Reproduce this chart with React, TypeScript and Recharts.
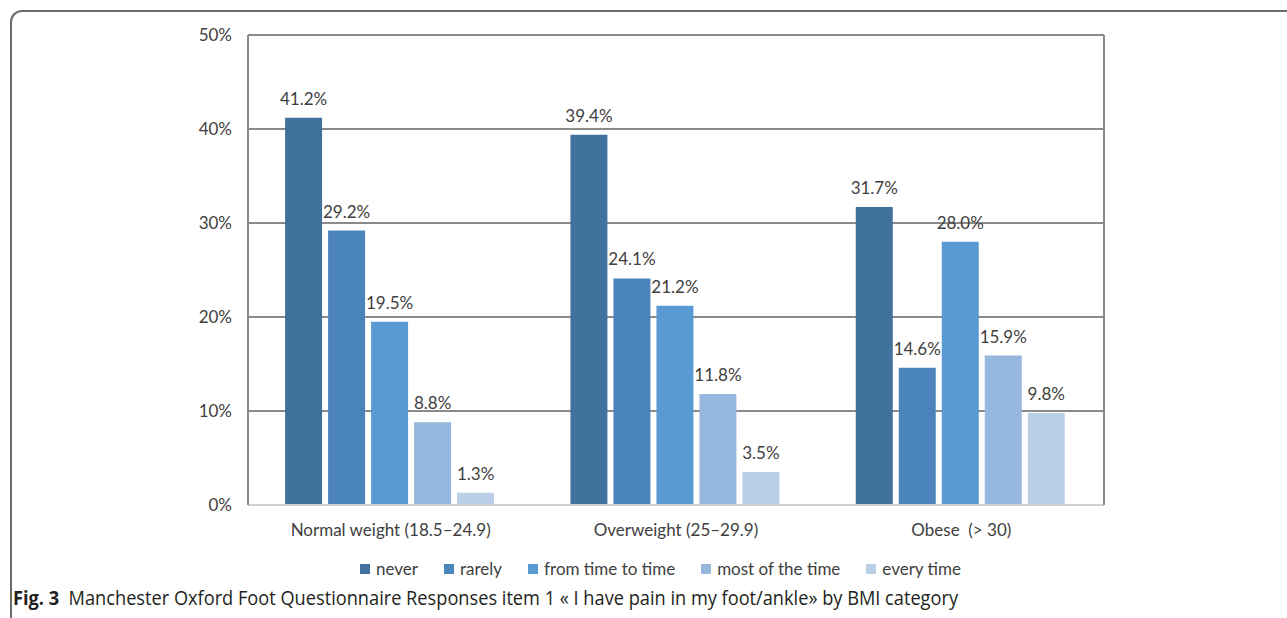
import React from 'react';
import {
  BarChart,
  Bar,
  XAxis,
  YAxis,
  CartesianGrid,
  Legend,
  LabelList
} from 'recharts';

const categories = ['Normal weight (18.5–24.9)', 'Overweight (25–29.9)', 'Obese \u00a0(> 30)'];
const never = [41.2, 39.4, 31.7];
const rarely = [29.2, 24.1, 14.6];
const fromTimeToTime = [19.5, 21.2, 28.0];
const mostOfTheTime = [8.8, 11.8, 15.9];
const everyTime = [1.3, 3.5, 9.8];
const yTicks = [0, 10, 20, 30, 40, 50];

const series = [
  { key: 'never', name: 'never', values: never, color: '#41719d' },
  { key: 'rarely', name: 'rarely', values: rarely, color: '#4a84bb' },
  { key: 'fromTimeToTime', name: 'from time to time', values: fromTimeToTime, color: '#5a9ad4' },
  { key: 'mostOfTheTime', name: 'most of the time', values: mostOfTheTime, color: '#96b7de' },
  { key: 'everyTime', name: 'every time', values: everyTime, color: '#bccfe9' }
];

const data = categories.map((name, i) => {
  const row: Record<string, string | number> = { name };
  series.forEach(s => {
    row[s.key] = s.values[i];
  });
  return row;
});

const FONT = 'Lato, "Open Sans", sans-serif';

const renderLegend = () => (
  <div style={{ display: 'flex', justifyContent: 'center', gap: 26, fontFamily: FONT, fontSize: 17, color: '#404040' }}>
    {series.map(s => (
      <div key={s.key} style={{ display: 'flex', alignItems: 'center' }}>
        <span style={{ display: 'inline-block', width: 10, height: 10, background: s.color, marginRight: 6 }} />
        <span>{s.name}</span>
      </div>
    ))}
  </div>
);

const App: React.FC = () => {
  return (
    <div style={{ position: 'absolute', left: 0, top: 0, width: 1287, height: 618, overflow: 'hidden', background: '#fff' }}>
      <div
        style={{
          position: 'absolute',
          left: 10,
          top: 10,
          width: 1300,
          height: 620,
          borderTop: '2px solid #6b6b6b',
          borderLeft: '2px solid #6b6b6b',
          borderTopLeftRadius: 12
        }}
      />
      <div style={{ position: 'absolute', left: 0, top: 0 }}>
        <BarChart
          width={1287}
          height={600}
          data={data}
          margin={{ top: 35, right: 181, left: 188, bottom: 65 }}
          barCategoryGap="13%"
          barGap={6}
        >
          <CartesianGrid yAxisId="left" vertical={false} stroke="#8a8a8a" strokeWidth={2} />
          <XAxis
            dataKey="name"
            height={30}
            tickSize={0}
            tickMargin={19}
            axisLine={{ stroke: '#d0d0d0', strokeWidth: 2 }}
            tick={{ fill: '#404040', fontSize: 17, fontFamily: FONT }}
          />
          <YAxis
            yAxisId="left"
            width={60}
            domain={[0, 50]}
            ticks={yTicks}
            tickFormatter={(v: number) => `${v}%`}
            tickSize={0}
            tickMargin={16}
            axisLine={{ stroke: '#8a8a8a', strokeWidth: 2 }}
            tick={{ fill: '#404040', fontSize: 17, fontFamily: FONT }}
          />
          <YAxis
            yAxisId="right"
            orientation="right"
            width={2}
            domain={[0, 50]}
            tick={false}
            tickLine={false}
            axisLine={{ stroke: '#8a8a8a', strokeWidth: 2 }}
          />
          <Legend verticalAlign="middle" align="center" wrapperStyle={{ top: 558, left: 17, width: 1287 }} content={renderLegend} />
          {series.map(s => (
            <Bar key={s.key} yAxisId="left" dataKey={s.key} name={s.name} fill={s.color} isAnimationActive={false}>
              <LabelList
                dataKey={s.key}
                position="top"
                offset={13}
                formatter={(v: number) => `${v.toFixed(1)}%`}
                style={{ fill: '#404040', fontSize: 17, fontFamily: FONT }}
              />
            </Bar>
          ))}
        </BarChart>
      </div>
      <div
        style={{
          position: 'absolute',
          left: 13,
          top: 584,
          fontFamily: '"Open Sans", sans-serif',
          fontSize: 20,
          color: '#231f20',
          whiteSpace: 'nowrap',
          transform: 'scaleX(0.91)',
          transformOrigin: 'left center'
        }}
      >
        <b>Fig. 3</b>&nbsp;&nbsp;Manchester Oxford Foot Questionnaire Responses item 1 « I have pain in my foot/ankle» by BMI category
      </div>
    </div>
  );
};

export default App;
